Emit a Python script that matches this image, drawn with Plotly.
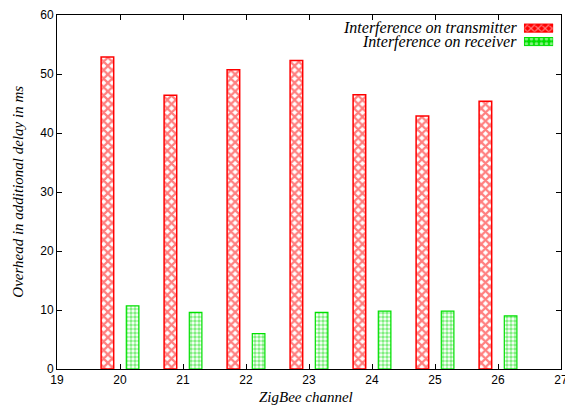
import plotly.graph_objects as go

channels = [20, 21, 22, 23, 24, 25, 26]
transmitter = [52.9, 46.4, 50.7, 52.3, 46.5, 42.9, 45.4]
receiver = [10.7, 9.6, 6.0, 9.6, 9.8, 9.8, 9.0]
x_ticks = [19, 20, 21, 22, 23, 24, 25, 26, 27]
y_ticks = [0, 10, 20, 30, 40, 50, 60]

RED = "#ff0000"
GREEN = "#00e000"
SERIF = "Liberation Serif, Times New Roman, serif"
SANS = "Liberation Sans, Arial, Helvetica, sans-serif"

fig = go.Figure()
fig.add_trace(go.Bar(
    x=channels, y=transmitter, name="Interference on transmitter",
    width=0.2, offset=-0.3,
    marker=dict(color="white", line=dict(color=RED, width=1.5),
                pattern=dict(shape="x", fgcolor=RED, bgcolor="white", size=6, solidity=0.6)),
    showlegend=False,
))
fig.add_trace(go.Bar(
    x=channels, y=receiver, name="Interference on receiver",
    width=0.2, offset=0.1,
    marker=dict(color="white", line=dict(color=GREEN, width=1.2),
                pattern=dict(shape=".", fgcolor=GREEN, bgcolor="white", size=4, solidity=0.6)),
    showlegend=False,
))

# Legend swatches drawn as tiny patterned bars on an auxiliary axis pair
legend_names = ["Interference on transmitter", "Interference on receiver"]
swatch_colors = [RED, GREEN]
swatch_shapes = ["x", "."]
for i, (nm, col, shp) in enumerate(zip(legend_names, swatch_colors, swatch_shapes)):
    fig.add_trace(go.Bar(
        y=[i], x=[1], orientation="h", xaxis="x2", yaxis="y2", width=0.6,
        marker=dict(color=col, line=dict(color=col, width=1),
                    pattern=dict(shape=shp, fgcolor="white", bgcolor=col,
                                 size=5, solidity=0.4)),
        showlegend=False, hoverinfo="skip",
    ))
    fig.add_annotation(
        xref="paper", yref="y2", x=0.916, y=i, text="<i>%s</i>" % nm,
        showarrow=False, xanchor="right", yanchor="middle",
        font=dict(family=SERIF, size=16, color="black"),
    )

# axis titles
fig.add_annotation(xref="paper", yref="paper", x=0.495, y=-0.079, yanchor="middle",
                   text="<i>ZigBee channel</i>", showarrow=False,
                   font=dict(family=SERIF, size=15, color="black"))
fig.add_annotation(xref="paper", yref="paper", x=-0.078, y=0.5, xanchor="center",
                   text="<i>Overhead in additional delay in ms</i>", showarrow=False,
                   textangle=-90, font=dict(family=SERIF, size=15, color="black"))

fig.update_layout(
    width=565, height=409,
    margin=dict(l=57, r=4, t=15, b=40, autoexpand=False),
    paper_bgcolor="white", plot_bgcolor="white",
    barmode="overlay",
    font=dict(family=SANS, size=12, color="black"),
    xaxis=dict(
        range=[19, 27], tickvals=x_ticks, ticktext=[str(v) for v in x_ticks],
        ticks="inside", ticklen=5, tickcolor="black", showline=True, linecolor="black",
        linewidth=1, mirror="ticks", showgrid=False, zeroline=False, automargin=False,
        ticklabeloverflow="allow",
        tickfont=dict(family=SANS, size=12),
    ),
    yaxis=dict(
        range=[0, 60], tickvals=y_ticks,
        ticks="inside", ticklen=5, tickcolor="black", showline=True, linecolor="black",
        linewidth=1, mirror="ticks", showgrid=False, zeroline=False, automargin=False,
        ticklabeloverflow="allow",
        tickfont=dict(family=SANS, size=12),
    ),
    xaxis2=dict(domain=[0.9265, 0.9845], range=[0, 1], visible=False, fixedrange=True),
    yaxis2=dict(domain=[0.906, 0.982], range=[1.5, -0.5], visible=False, fixedrange=True),
)

fig.write_html("out.html", config={"displayModeBar": False},
               post_script="document.body.style.margin='0';document.body.style.overflow='hidden';")
